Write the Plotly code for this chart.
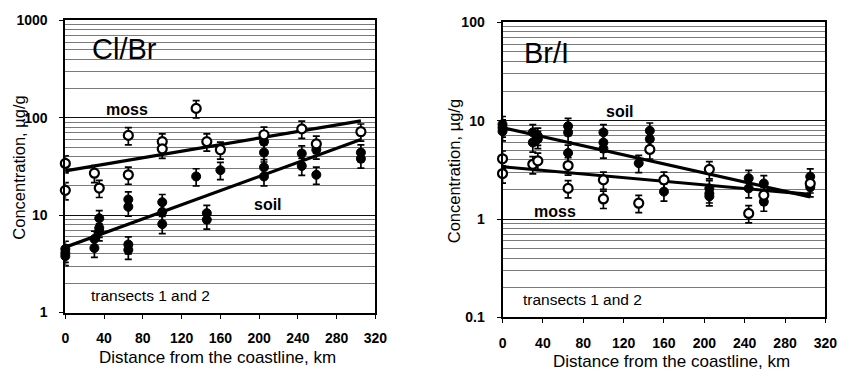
import plotly.graph_objects as go
import math

W, H = 857, 379

# ---------------- data ----------------
# Cl/Br panel
clbr_moss_x = [0, 0, 30, 35, 65, 65, 100, 100, 135, 146, 160, 205, 244, 259, 305]
clbr_moss_y = [34, 18, 27, 19, 66, 26, 57, 48, 125, 57, 47, 67, 77, 54, 72]
clbr_soil_x = [0, 0, 0, 30, 30, 35, 35, 35, 65, 65, 65, 65, 100, 100, 100, 135, 146, 146,
               160, 205, 205, 205, 205, 244, 244, 259, 259, 305, 305]
clbr_soil_y = [4.5, 4.1, 3.8, 4.6, 5.7, 9.3, 7.4, 6.8, 14.5, 12.2, 5.0, 4.4, 13.6, 10.8, 8.1, 25,
               10.5, 9.0, 29, 57, 44, 31, 25, 43, 32, 47, 26, 44, 38]
clbr_fit_x = [0, 305]
clbr_moss_fit = [28.5, 93]
clbr_soil_fit = [4.7, 60]

# Br/I panel
bri_moss_x = [0, 0, 30, 35, 65, 65, 100, 100, 135, 146, 160, 205, 244, 259, 305]
bri_moss_y = [4.1, 2.9, 3.6, 3.9, 3.5, 2.05, 2.5, 1.6, 1.45, 5.1, 2.5, 3.2, 1.14, 1.75, 2.3]
bri_soil_x = [0, 0, 0, 30, 30, 35, 35, 65, 65, 65, 100, 100, 100, 135, 146, 146, 160,
              205, 205, 205, 244, 244, 259, 259, 305, 305]
bri_soil_y = [9.2, 8.5, 7.8, 7.6, 6.0, 7.0, 6.5, 8.8, 7.6, 4.7, 7.6, 6.0, 5.2, 3.7, 7.9, 6.5, 1.9,
              2.05, 1.82, 1.7, 2.6, 2.05, 2.3, 1.5, 2.7, 2.1]
bri_fit_x = [0, 305]
bri_soil_fit = [8.5, 1.68]
bri_moss_fit = [3.4, 1.78]

x_ticks = [0, 40, 80, 120, 160, 200, 240, 280, 320]
clbr_yticks = [1, 10, 100, 1000]
clbr_yticktext = ["1", "10", "100", "1000"]
bri_yticks = [0.1, 1, 10, 100]
bri_yticktext = ["0.1", "1", "10", "100"]

ERR_PCT = 20

# ---------------- figure ----------------
FONT = "Arial, Liberation Sans, Helvetica, sans-serif"
fig = go.Figure()


def add_panel(xa, ya, moss_x, moss_y, soil_x, soil_y, fx, moss_fit, soil_fit):
    for fy in (moss_fit, soil_fit):
        fig.add_trace(go.Scatter(x=fx, y=fy, mode="lines", xaxis=xa, yaxis=ya,
                                 line=dict(color="black", width=3.2),
                                 showlegend=False, hoverinfo="skip", cliponaxis=False))
    fig.add_trace(go.Scatter(x=soil_x, y=soil_y, mode="markers", xaxis=xa, yaxis=ya,
                             marker=dict(size=9, color="black", line=dict(color="black", width=1)),
                             error_y=dict(type="percent", value=ERR_PCT, color="black",
                                          thickness=1.7, width=3.5),
                             showlegend=False, cliponaxis=False))
    fig.add_trace(go.Scatter(x=moss_x, y=moss_y, mode="markers", xaxis=xa, yaxis=ya,
                             marker=dict(size=9, color="white", line=dict(color="black", width=2.2)),
                             error_y=dict(type="percent", value=ERR_PCT, color="black",
                                          thickness=1.7, width=3.5),
                             showlegend=False, cliponaxis=False))


add_panel("x", "y", clbr_moss_x, clbr_moss_y, clbr_soil_x, clbr_soil_y,
          clbr_fit_x, clbr_moss_fit, clbr_soil_fit)
add_panel("x2", "y2", bri_moss_x, bri_moss_y, bri_soil_x, bri_soil_y,
          bri_fit_x, bri_moss_fit, bri_soil_fit)


def minor_vals(lo, hi):
    vals = []
    d = lo
    while d < hi:
        for k in range(2, 10):
            vals.append(k * d)
        d *= 10
    return vals


def px(xp, yp):
    return xp / W, 1 - yp / H


tickfont = dict(family=FONT, size=14, color="black", weight="bold")

L = (62.5, 378.5, 13, 318)
R = (508, 837, 15, 323)


def xaxis_cfg(box, standoff):
    return dict(domain=[box[0] / W, box[1] / W], range=[0, 320], tickvals=x_ticks,
                ticks="outside", ticklen=4, tickwidth=1.2, tickcolor="black",
                showline=True, linecolor="black", linewidth=2, mirror=True,
                showgrid=False, zeroline=False, tickfont=tickfont,
                ticklabelstandoff=standoff, fixedrange=True)


def yaxis_cfg(box, anchor, lo, hi, tv, tt):
    return dict(domain=[1 - box[3] / H, 1 - box[2] / H], type="log",
                range=[math.log10(lo), math.log10(hi)], anchor=anchor,
                tickvals=tv, ticktext=tt, ticks="outside", ticklen=4, tickwidth=1.2,
                tickcolor="black", showline=True, linecolor="black", linewidth=2,
                mirror=True, showgrid=True, gridcolor="#111111", gridwidth=1,
                zeroline=False, tickfont=tickfont, ticklabelstandoff=9,
                minor=dict(tickvals=minor_vals(lo, hi), showgrid=True,
                           gridcolor="#7a7a7a", gridwidth=1, ticks=""),
                fixedrange=True)


fig.update_layout(
    width=W, height=H, margin=dict(l=0, r=0, t=0, b=0),
    paper_bgcolor="white", plot_bgcolor="white",
    xaxis=dict(anchor="y", **xaxis_cfg(L, 8)),
    yaxis=yaxis_cfg(L, "x", 1, 1000, clbr_yticks, clbr_yticktext),
    xaxis2=dict(anchor="y2", **xaxis_cfg(R, 8)),
    yaxis2=yaxis_cfg(R, "x2", 0.1, 100, bri_yticks, bri_yticktext),
)

ann = []


def text(xp, yp, s, size, bold=False, angle=0, xanchor="center"):
    x, y = px(xp, yp)
    ann.append(dict(x=x, y=y, xref="paper", yref="paper", text=s, showarrow=False,
                    xanchor=xanchor, yanchor="middle", textangle=angle,
                    font=dict(family=FONT, size=size, color="black",
                              weight="bold" if bold else "normal")))


# left panel texts
text(88, 43, "Cl/Br", 29, xanchor="left")
text(125, 106, "moss", 16, bold=True)
text(269, 205, "soil", 16, bold=True)
text(87, 300, "transects 1 and 2", 15.5, xanchor="left")
text(15, 167, "Concentration, µg/g", 16.5, angle=-90)
text(218, 365, "Distance from the coastline, km", 17)

# right panel texts
text(528, 47, "Br/I", 29, xanchor="left")
text(628, 108, "soil", 16, bold=True)
text(561, 212, "moss", 16, bold=True)
text(527, 304, "transects 1 and 2", 15.5, xanchor="left")
text(458, 170, "Concentration, µg/g", 16.5, angle=-90)
text(680, 369, "Distance from the coastline, km", 17)

fig.update_layout(annotations=ann)

fig.write_html("out.html")
